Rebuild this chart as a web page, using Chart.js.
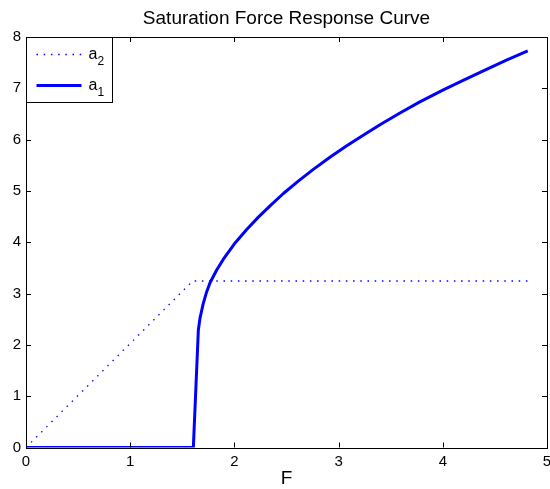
<!DOCTYPE html>
<html>
<head>
<meta charset="utf-8">
<script src="https://cdn.jsdelivr.net/npm/chart.js@4/dist/chart.umd.min.js"></script>
<style>
  html, body { margin: 0; padding: 0; background: #ffffff; }
  canvas { display: block; }
</style>
</head>
<body>
<canvas id="c" width="550" height="489"></canvas>
<script>
// ---- data ----
const chartTitle = "Saturation Force Response Curve";
const xAxisLabel = "F";
const xTicks = [0, 1, 2, 3, 4, 5];
const yTicks = [0, 1, 2, 3, 4, 5, 6, 7, 8];

// a1 (solid)
const a1X = [0, 1.606, 1.654, 1.67, 1.70, 1.73, 1.766, 1.83, 1.894, 2.0, 2.118, 2.23, 2.342, 2.47, 2.613, 2.757, 2.92, 3.078, 3.24, 3.397, 3.589, 3.775, 4.005, 4.2, 4.389, 4.6, 4.815];
const a1Y = [0, 0,     2.29,  2.52, 2.80, 3.01, 3.21,  3.46, 3.67,  3.97, 4.25,  4.49, 4.71,  4.95, 5.19,  5.42,  5.66, 5.88,  6.09, 6.29,  6.52,  6.73,  6.97,  7.16, 7.34,  7.54, 7.73];

// a2 (dotted)
const a2X = [0, 1.60, 4.815];
const a2Y = [0, 3.245, 3.245];

const legendLabels = [
  { base: "a", sub: "2" },
  { base: "a", sub: "1" }
];

const FONT = "'Liberation Sans', Arial, Helvetica, sans-serif";
const BLUE = "#0000ff";

function pts(xs, ys) { return xs.map((x, i) => ({ x: x, y: ys[i] })); }

const boxPlugin = {
  id: 'matlabBox',
  afterDraw(chart) {
    const ctx = chart.ctx;
    const a = chart.chartArea;
    const xs = chart.scales.x, ys = chart.scales.y;
    ctx.save();
    ctx.strokeStyle = '#000';
    ctx.lineWidth = 1;
    ctx.strokeRect(Math.round(a.left) + 0.5, Math.round(a.top) + 0.5,
                   Math.round(a.right - a.left), Math.round(a.bottom - a.top));
    const tl = 5;
    ctx.beginPath();
    xTicks.forEach(v => {
      const px = Math.round(xs.getPixelForValue(v)) + 0.5;
      ctx.moveTo(px, a.bottom); ctx.lineTo(px, a.bottom - tl);
      ctx.moveTo(px, a.top); ctx.lineTo(px, a.top + tl);
    });
    yTicks.forEach(v => {
      const py = Math.round(ys.getPixelForValue(v)) + 0.5;
      ctx.moveTo(a.left, py); ctx.lineTo(a.left + tl, py);
      ctx.moveTo(a.right, py); ctx.lineTo(a.right - tl, py);
    });
    ctx.stroke();

    // legend
    const lx = Math.round(a.left) + 0.5, ly = Math.round(a.top) + 0.5;
    const lw = 86, lh = 65;
    ctx.fillStyle = '#fff';
    ctx.fillRect(lx, ly, lw, lh);
    ctx.strokeStyle = '#000';
    ctx.lineWidth = 1;
    ctx.strokeRect(lx, ly, lw, lh);
    const ds = chart.data.datasets;
    const rows = [ly + 17, ly + 48];
    const order = [1, 0];
    order.forEach((di, r) => {
      const d = ds[di];
      const y = rows[r];
      ctx.save();
      ctx.strokeStyle = d.borderColor;
      ctx.lineWidth = d.borderWidth;
      ctx.setLineDash(d.borderDash || []);
      ctx.beginPath();
      ctx.moveTo(lx + 10, y); ctx.lineTo(lx + 55, y);
      ctx.stroke();
      ctx.restore();
      const lab = legendLabels[r];
      ctx.fillStyle = '#000';
      ctx.textBaseline = 'alphabetic';
      ctx.textAlign = 'left';
      ctx.font = "16px " + FONT;
      ctx.fillText(lab.base, lx + 62, y + 4);
      const w = ctx.measureText(lab.base).width;
      ctx.font = "12px " + FONT;
      ctx.fillText(lab.sub, lx + 62 + w, y + 10);
    });
    ctx.restore();
  }
};

new Chart(document.getElementById('c'), {
  type: 'scatter',
  data: {
    datasets: [
      {
        label: 'a1',
        data: pts(a1X, a1Y),
        showLine: true,
        borderColor: BLUE,
        backgroundColor: BLUE,
        borderWidth: 3,
        pointRadius: 0,
        tension: 0,
        borderJoinStyle: 'round',
        fill: false
      },
      {
        label: 'a2',
        data: pts(a2X, a2Y),
        showLine: true,
        borderColor: BLUE,
        backgroundColor: BLUE,
        borderWidth: 1.3,
        borderDash: [1.5, 5.7],
        pointRadius: 0,
        tension: 0,
        fill: false
      }
    ]
  },
  options: {
    responsive: false,
    animation: false,
    devicePixelRatio: 1,
    layout: { padding: { left: 0, right: 3, top: 0, bottom: 0 } },
    plugins: {
      legend: { display: false },
      tooltip: { enabled: false },
      title: {
        display: true,
        fullSize: false,
        text: chartTitle,
        color: '#000',
        font: { family: FONT, size: 19, weight: 'normal' },
        padding: { top: 7, bottom: 7.2 }
      }
    },
    scales: {
      x: {
        type: 'linear',
        min: 0, max: 5,
        afterBuildTicks: s => { s.ticks = xTicks.map(v => ({ value: v })); },
        afterFit: s => { s.height = 41.5; s.paddingLeft = 0; s.paddingRight = 0; },
        grid: { display: false, drawTicks: false },
        border: { display: false },
        ticks: { color: '#000', font: { family: FONT, size: 15 }, padding: 5, maxRotation: 0 },
        title: { display: true, text: xAxisLabel, color: '#000', font: { family: FONT, size: 19 }, padding: { top: 0, bottom: -1 } }
      },
      y: {
        type: 'linear',
        min: 0, max: 8,
        afterBuildTicks: s => { s.ticks = yTicks.map(v => ({ value: v })); },
        afterFit: s => { s.width = 26; },
        grid: { display: false, drawTicks: false },
        border: { display: false },
        ticks: { color: '#000', font: { family: FONT, size: 15 }, padding: 5 }
      }
    }
  },
  plugins: [boxPlugin]
});
</script>
</body>
</html>
